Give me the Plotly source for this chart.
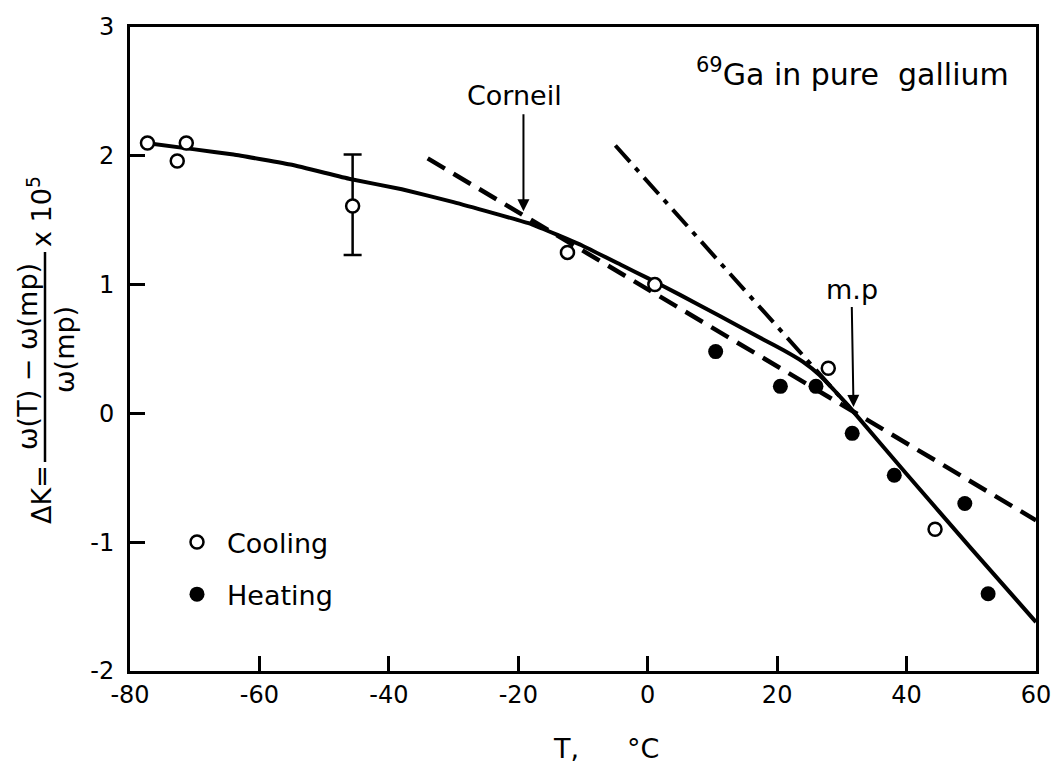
import plotly.graph_objects as go

# ---------------- data ----------------
cool_T = [-77.3, -72.7, -71.3, -12.4, 1.1, 27.9, 44.4]
cool_K = [2.10, 1.96, 2.10, 1.25, 1.00, 0.35, -0.90]

cool_err_T = [-45.6]
cool_err_K = [1.61]
cool_err_plus = [0.40]
cool_err_minus = [0.38]

heat_T = [10.5, 20.5, 26.0, 31.6, 38.1, 49.0, 52.6]
heat_K = [0.48, 0.21, 0.21, -0.155, -0.48, -0.70, -1.40]

fit_T = [-77.5, -70, -64, -55, -46, -38, -30, -18, -10, -4, 0, 5, 11, 18, 21, 24, 26.5, 29, 31, 32, 40, 50, 60]
fit_K = [2.10, 2.05, 2.01, 1.93, 1.82, 1.74, 1.64, 1.47, 1.30, 1.15, 1.05, 0.92, 0.76, 0.57, 0.49, 0.40, 0.30, 0.17, 0.06, 0.0, -0.47, -1.05, -1.62]

corneil_T = [-34.0, 60.0]
corneil_K = [1.98, -0.83]

liquid_T = [-5.0, 32.0]
liquid_K = [2.08, 0.0]

x_ticks = [-80, -60, -40, -20, 0, 20, 40, 60]
y_ticks = [-2, -1, 0, 1, 2, 3]

# ---------------- layout geometry ----------------
W, H = 1062, 771
L, R, T, B = 130, 26, 27, 100
PW, PH = W - L - R, H - T - B
FONT = "DejaVu Sans"


def px(xp):
    return (xp - L) / PW


def py(yp):
    return (H - B - yp) / PH


fig = go.Figure()

fig.add_trace(go.Scatter(x=fit_T, y=fit_K, mode="lines",
                         line=dict(color="black", width=4, shape="spline", smoothing=0.3),
                         showlegend=False, hoverinfo="skip"))
fig.add_trace(go.Scatter(x=corneil_T, y=corneil_K, mode="lines",
                         line=dict(color="black", width=4.5, dash="20px,10px"),
                         showlegend=False, hoverinfo="skip"))
fig.add_trace(go.Scatter(x=liquid_T, y=liquid_K, mode="lines",
                         line=dict(color="black", width=4, dash="22px,8px,5px,8px"),
                         showlegend=False, hoverinfo="skip"))

fig.add_trace(go.Scatter(x=cool_err_T, y=cool_err_K, mode="markers",
                         marker=dict(symbol="circle", size=13, color="white",
                                     line=dict(color="black", width=2.5)),
                         error_y=dict(type="data", symmetric=False, array=cool_err_plus,
                                      arrayminus=cool_err_minus, color="black",
                                      thickness=2.5, width=9),
                         showlegend=False))
fig.add_trace(go.Scatter(x=cool_T, y=cool_K, mode="markers", name="Cooling",
                         legendgroup="c",
                         marker=dict(symbol="circle", size=13, color="white",
                                     line=dict(color="black", width=2.5))))
fig.add_trace(go.Scatter(x=heat_T, y=heat_K, mode="markers", name="Heating",
                         legendgroup="h",
                         marker=dict(symbol="circle", size=15, color="black",
                                     line=dict(color="black", width=0))))

axis_common = dict(showline=True, linecolor="black", linewidth=3, mirror=True,
                   ticks="inside", ticklen=15, tickwidth=2.5, tickcolor="black",
                   showgrid=False, zeroline=False,
                   tickfont=dict(family=FONT, size=24, color="black"))

fig.update_xaxes(range=[-80, 60], tickvals=x_ticks, ticktext=[str(v) for v in x_ticks],
                 ticklabelstandoff=0, **axis_common)
fig.update_yaxes(range=[-2, 3], tickvals=y_ticks, ticktext=[str(v) for v in y_ticks],
                 ticklabelstandoff=8, **axis_common)


def label(xp, yp, text, size=27, angle=0):
    return dict(xref="paper", yref="paper", x=px(xp), y=py(yp), showarrow=False,
                xanchor="center", yanchor="middle", text=text, textangle=angle,
                font=dict(family=FONT, size=size, color="black"))


NB = "\u00a0"
ann = [
    label(852, 72, "<sup>69</sup>Ga in pure  gallium", size=30),
    dict(x=-19.2, y=1.57, xref="x", yref="y", text="Corneil" + NB * 2, showarrow=True,
         ax=0, ay=-116, arrowhead=2, arrowsize=1.2, arrowwidth=2, arrowcolor="black",
         standoff=0, startstandoff=2,
         font=dict(family=FONT, size=27, color="black")),
    dict(x=31.8, y=0.05, xref="x", yref="y", text="m.p", showarrow=True,
         ax=-2, ay=-117, arrowhead=2, arrowsize=1.2, arrowwidth=2, arrowcolor="black",
         standoff=0, startstandoff=0,
         font=dict(family=FONT, size=27, color="black")),
    label(566, 748, "T,"),
    label(643, 748, "°C"),
    label(42, 495, "ΔK=", angle=-90),
    label(27, 357, "ω(T) − ω(mp)", angle=-90),
    label(64, 350, "ω(mp)", angle=-90),
    label(40, 212, "x 10<sup>5</sup>", angle=-90),
]

shapes = [dict(type="line", xref="paper", yref="paper", x0=px(45), x1=px(45),
               y0=py(462), y1=py(252), line=dict(color="black", width=2.5))]

fig.update_layout(
    width=W, height=H, autosize=False,
    margin=dict(l=L, r=R, t=T, b=B),
    paper_bgcolor="white", plot_bgcolor="white",
    annotations=ann, shapes=shapes,
    legend=dict(x=px(167), y=py(518), xanchor="left", yanchor="top",
                bgcolor="rgba(0,0,0,0)", borderwidth=0, tracegroupgap=14,
                itemwidth=50,
                font=dict(family=FONT, size=27, color="black")),
    font=dict(family=FONT, color="black"),
)

fig.write_html("out.html")
